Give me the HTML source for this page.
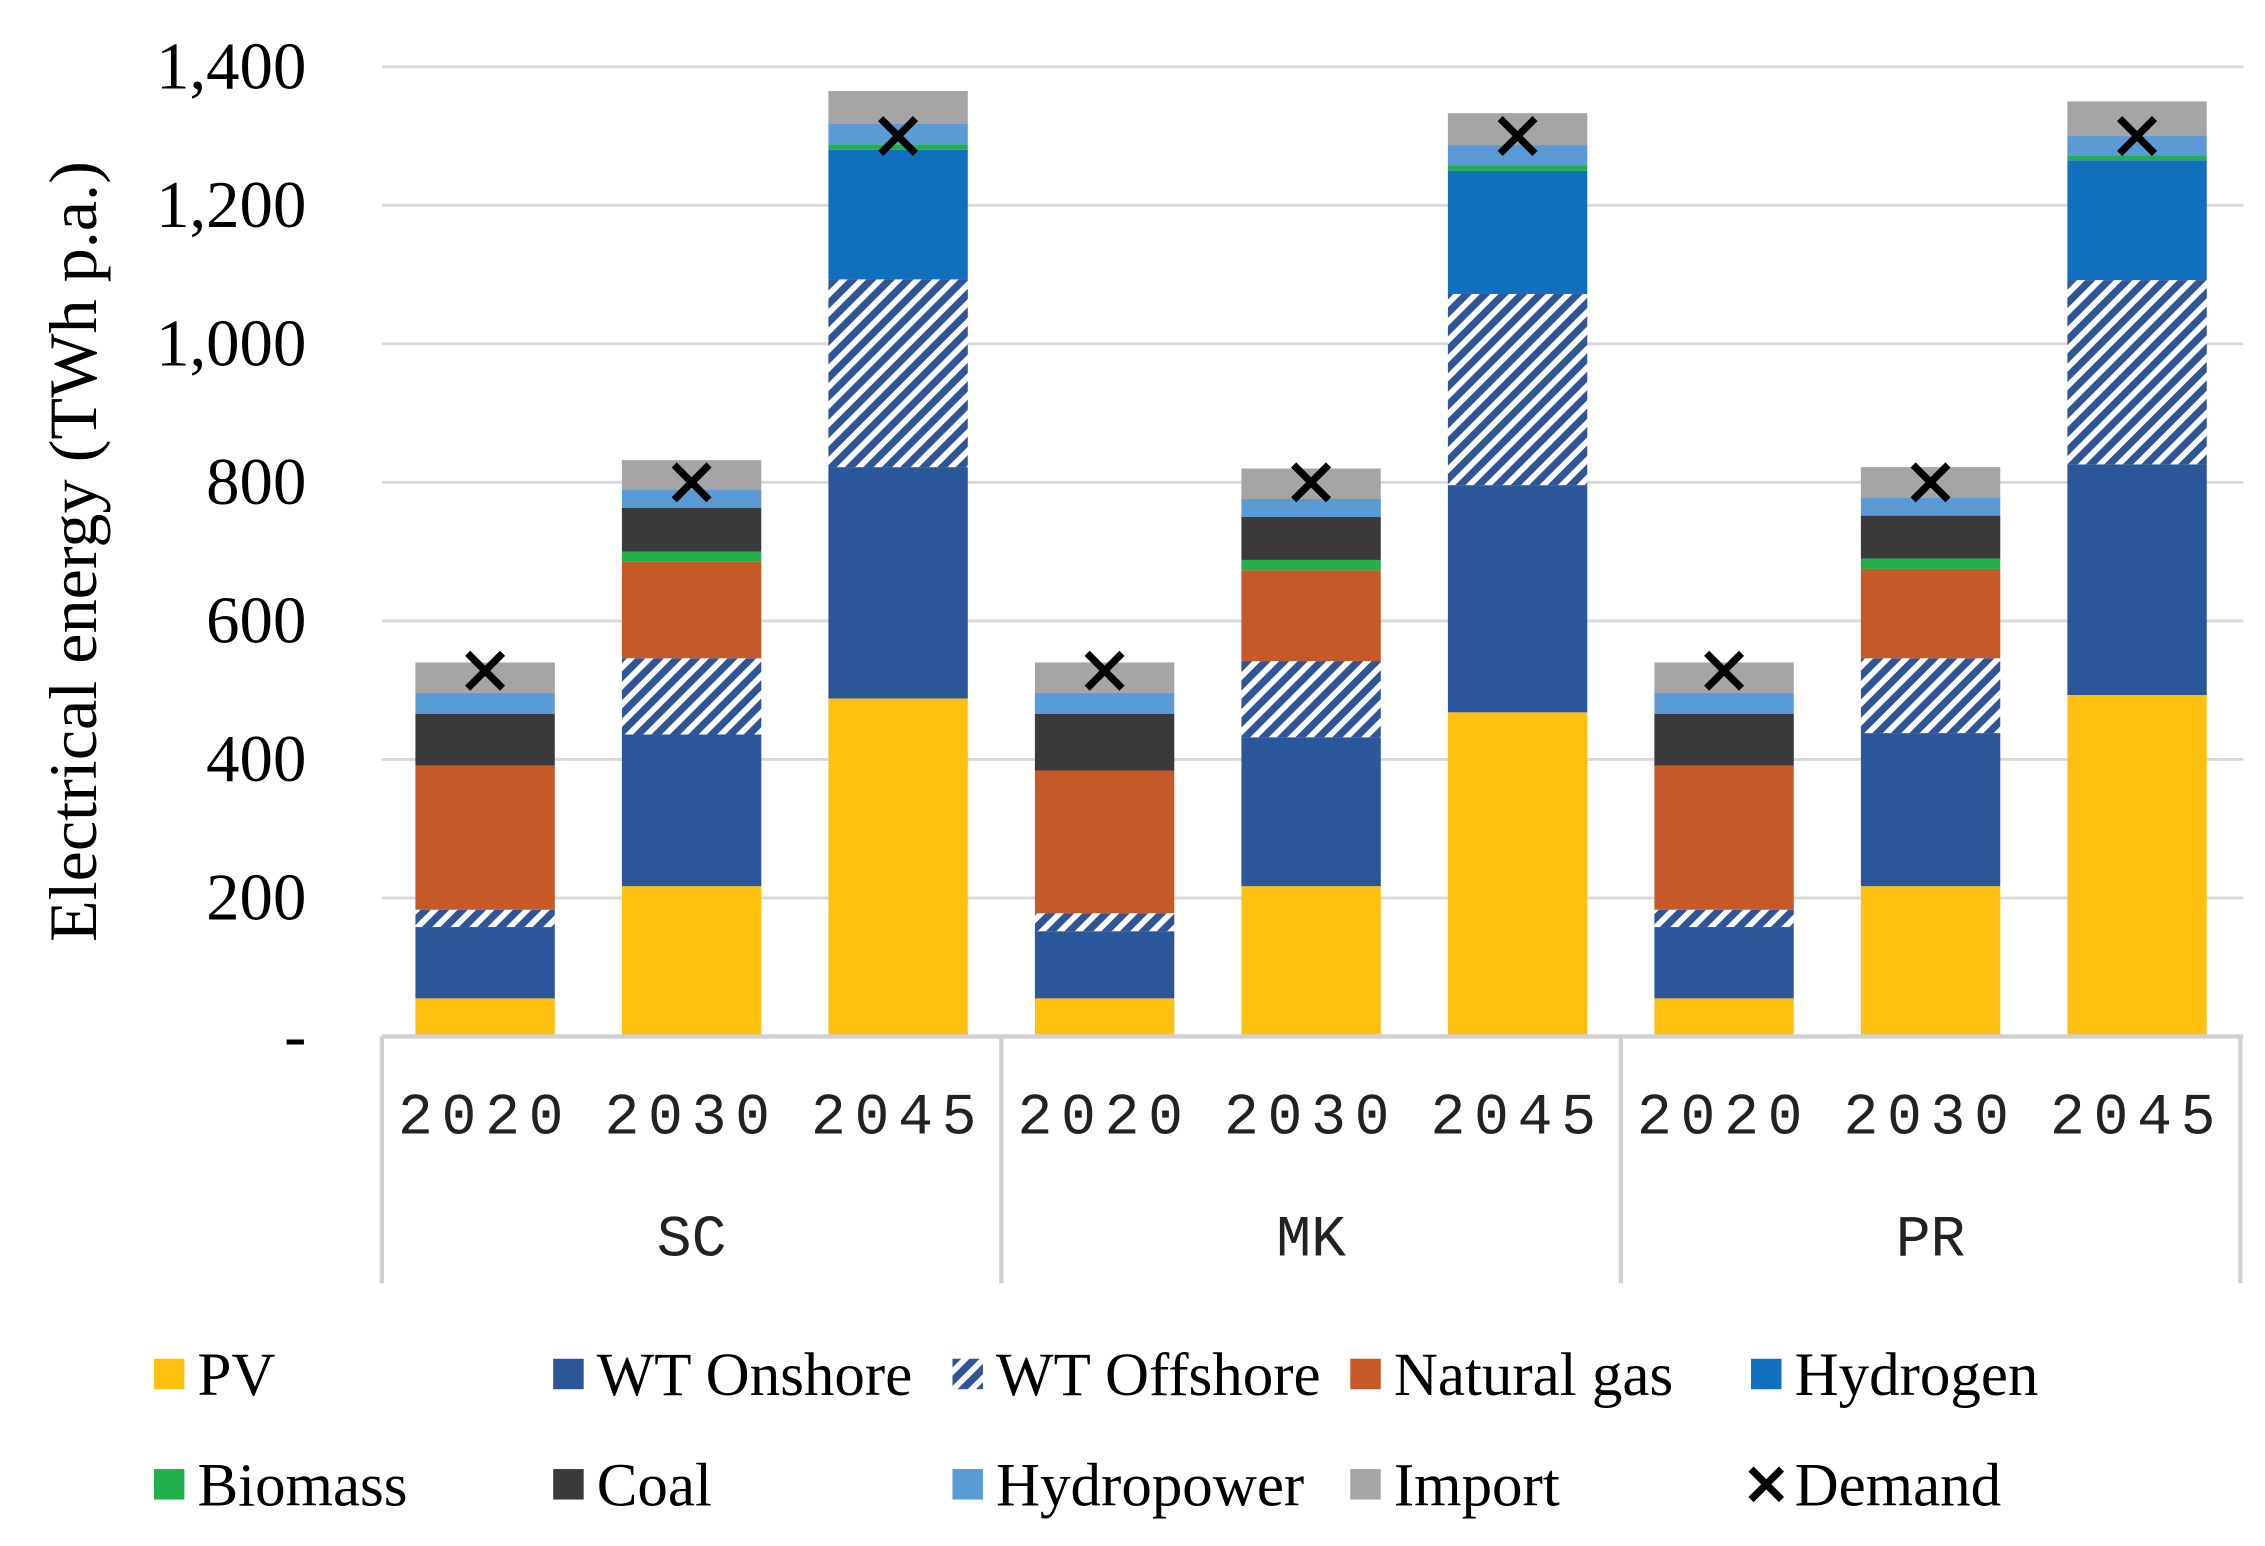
<!DOCTYPE html>
<html><head><meta charset="utf-8"><style>html,body{margin:0;padding:0;background:#fff}svg{display:block}</style></head>
<body>
<svg id="chart" width="2265" height="1546" viewBox="0 0 1560 1065" preserveAspectRatio="none" xmlns="http://www.w3.org/2000/svg">
<defs>
<pattern id="hatch" patternUnits="userSpaceOnUse" width="9" height="9" patternTransform="rotate(45)">
<rect width="9" height="9" fill="#fff"/><rect width="5" height="9" fill="#2F5597"/>
</pattern>
</defs>
<g id="grid"></g><g id="bars"></g><g id="axes"></g><g id="legend"></g>
</svg>
<script>
const regions = ["SC","MK","PR"];
const years = ["2020","2030","2045"];
const seriesNames = ["PV","WT Onshore","WT Offshore","Natural gas","Hydrogen","Biomass","Coal","Hydropower","Import"];
const seriesColors = ["#FFC010","#2B579A","url(#hatch)","#C55A28","#1170BD","#22B04D","#3A3A3A","#5B9BD5","#A5A5A5"];
const pv        = [55,217,488, 55,217,468, 55,217,493];
const wtOnshore = [103,219,334, 97,215,328, 103,221,333];
const wtOffshore= [25,110,271, 26,110,276, 25,108,266];
const naturalGas= [208,140,0, 206,131,0, 208,129,0];
const hydrogen  = [0,0,187, 0,0,178, 0,0,173];
const biomass   = [0,14,8, 0,15,8, 0,15,7];
const coal      = [75,63,0, 82,62,0, 75,62,0];
const hydropower= [30,27,30, 30,26,29, 30,26,28];
const imports   = [44,42,47, 44,44,46, 44,44,50];
const demand    = [528,800,1300, 528,800,1300, 528,800,1300];
const yTicks = [0,200,400,600,800,1000,1200,1400];
const yTickLabels = ["-","200","400","600","800","1,000","1,200","1,400"];

const series = [pv,wtOnshore,wtOffshore,naturalGas,hydrogen,biomass,coal,hydropower,imports];
const NS="http://www.w3.org/2000/svg";
const x0=263, x1=1543, yBase=714, yTop=46, yMaxV=1400;
const y = v => yBase - v/yMaxV*(yBase-yTop);
const catW = (x1-x0)/9, barW=96;
const xc = i => x0 + catW*(i+0.5);
function mk(tag, attrs, parent){const e=document.createElementNS(NS,tag);for(const k in attrs)e.setAttribute(k,attrs[k]);parent.appendChild(e);return e;}
const grid=document.getElementById('grid'), bars=document.getElementById('bars'), axes=document.getElementById('axes'), legend=document.getElementById('legend');
const serif='"Liberation Serif", serif', mono='"Liberation Mono", monospace';

yTicks.forEach((t,i)=>{
  if(t>0){const l=mk('line',{x1:x0,x2:x1+2,y1:y(t),y2:y(t),stroke:'#d9d9d9','stroke-width':2},grid);
  
  }
  const tx=mk('text',{x:211,y:y(t)+15,'text-anchor':'end','font-family':serif,'font-size':46,fill:'#000'},axes);
  tx.textContent=yTickLabels[i];
  
  
});
const yt=mk('text',{x:0,y:0,transform:'translate(66,380) rotate(-90)','text-anchor':'middle','font-family':serif,'font-size':47},axes);
yt.textContent='Electrical energy (TWh p.a.)';



for(let i=0;i<9;i++){
  let acc=0;
  series.forEach((s,k)=>{
    const v=s[i]; if(v<=0)return;
    const r=mk('rect',{x:xc(i)-barW/2,y:y(acc+v),width:barW,height:y(acc)-y(acc+v),fill:seriesColors[k]},bars);
    
    
    acc+=v;
  });
  const dy=y(demand[i]), cx=xc(i);
  const d=mk('path',{d:`M${cx-12} ${dy-12}L${cx+12} ${dy+12}M${cx+12} ${dy-12}L${cx-12} ${dy+12}`,stroke:'#000','stroke-width':5},bars);
  
  
  const yl=mk('text',{x:cx,y:781,'text-anchor':'middle','font-family':mono,'font-size':40,'letter-spacing':6,fill:'#222'},axes);
  yl.textContent=years[i%3];
  
  
}
const ax=mk('line',{x1:x0,x2:x1+2,y1:yBase,y2:yBase,stroke:'#d0d0d0','stroke-width':3},axes);


for(let g=0;g<=3;g++){
  const gx=x0+catW*3*g;
  const l=mk('line',{x1:gx,x2:gx,y1:yBase,y2:884,stroke:'#d0d0d0','stroke-width':3},axes);
  
  
  if(g<3){
    const t=mk('text',{x:gx+catW*1.5,y:865,'text-anchor':'middle','font-family':mono,'font-size':40,fill:'#222'},axes);
    t.textContent=regions[g];
    
    
  }
}
const legX=[106,381,656,930,1206];
const legItems=seriesNames.concat(["Demand"]);
const legOrder=[0,1,2,3,4,5,6,7,8,9];
legOrder.forEach((k,j)=>{
  const lx=legX[j%5], ly= j<5?947:1023;
  if(k<9){
    const r=mk('rect',{x:lx,y:ly-11,width:21,height:21,fill:seriesColors[k]},legend);
    
    
  } else {
    const p=mk('path',{d:`M${lx} ${ly-11}L${lx+21} ${ly+10}M${lx+21} ${ly-11}L${lx} ${ly+10}`,stroke:'#000','stroke-width':5},legend);
    
    
  }
  const t=mk('text',{x:lx+30,y:ly+14,'font-family':serif,'font-size':42},legend);
  t.textContent=legItems[k];
  
  
});
</script>
</body></html>
